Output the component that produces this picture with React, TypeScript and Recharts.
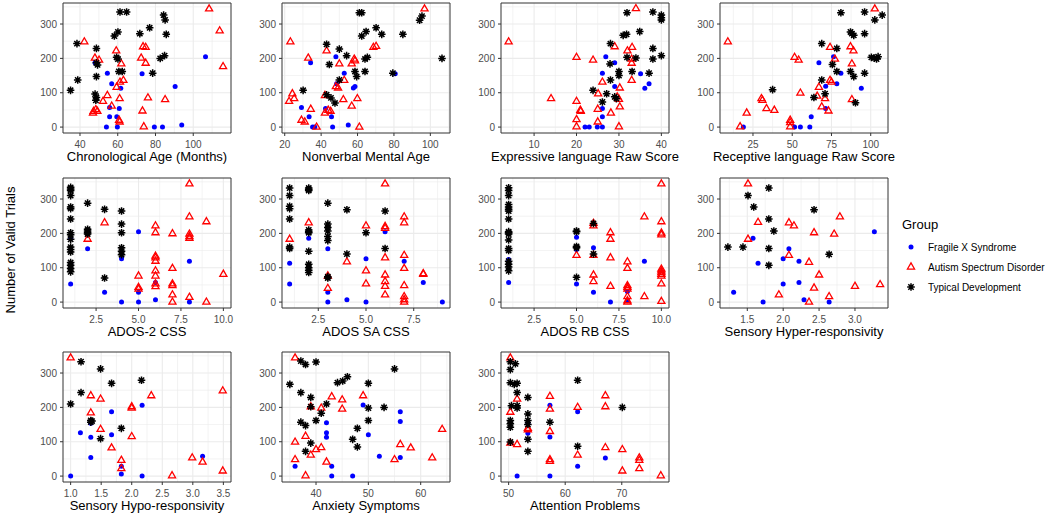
import { ScatterChart, Scatter, XAxis, YAxis, CartesianGrid, ReferenceArea } from 'recharts'

type Pt = [number, number]

// Chronological Age (Months)
const ageFXS: Pt[] = [[48,187],[54.5,157],[56.8,126],[61.6,113],[55.7,57],[60.8,54],[55.7,30],[59.5,30],[54,0],[59.8,0],[72.9,155],[79.4,0],[83.7,0],[93.9,6],[90.4,118],[106.5,205]]
const ageASD: Pt[] = [[42.3,248],[47.9,201],[50.1,195],[59.2,222],[61.9,184],[61.2,131],[63,136],[59.4,116],[54.5,92],[52.2,75],[61,83],[47.2,46],[48.4,51],[49.2,46],[46.9,41],[56.8,61],[60.7,20],[61,15],[72.4,201],[73.4,234],[74.8,232],[74.8,186],[76,85],[85.1,80],[73.1,47],[73.8,1],[108.4,344],[114,280],[115.8,176]]
const ageTD: Pt[] = [[35,107],[38.8,137],[38.4,243],[48.7,229],[48.7,187],[49.3,181],[48.7,147],[48,96],[48.7,86],[48.4,78],[58.2,265],[60.1,277],[61.2,335],[64.7,335],[59.4,203],[60.1,198],[60.6,162],[62.4,162],[71.7,272],[76.9,289],[78.5,157],[82.5,200],[84.8,208],[84.3,326],[85.1,312],[85.7,270]]

// Nonverbal Mental Age
const nvFXS: Pt[] = [[34.2,187],[48.1,205],[52.7,157],[57.7,114],[58.6,118],[48.5,126],[29.2,57],[42.4,54],[33.4,30],[45.7,30],[35.3,0],[36.5,0],[46.3,0],[54.9,6],[80.7,155]]
const nvASD: Pt[] = [[23.1,248],[43,222],[32.9,201],[50,184],[56.8,184],[58.2,198],[58.6,193],[68.7,232],[70.2,235],[96.8,344],[24.2,97],[25.2,83],[22.4,75],[34.3,52],[42.1,92],[48.1,118],[49.3,114],[52.7,136],[52.2,80],[59.9,83],[56.8,61],[42.1,41],[43.9,49],[45.2,46],[29.2,20],[31,15],[37.5,0],[61,0]]
const nvTD: Pt[] = [[30.1,107],[43,241],[50,227],[44.5,182],[54,208],[61,333],[62.3,333],[62.3,265],[64.7,278],[70.2,289],[73.3,270],[84.9,270],[64.1,198],[65.4,203],[58.6,162],[59.5,147],[64.1,162],[79.4,157],[50,137],[43,94],[45.4,85],[47.6,70],[94.1,311],[95.4,323],[106.4,200]]

// Expressive language Raw Score
const exFXS: Pt[] = [[26.9,205],[29,187],[26.1,157],[35.1,155],[37.1,126],[36.1,113],[29,118],[26.1,54],[26.1,30],[22,0],[23,0],[24.9,0],[26.1,0]]
const exASD: Pt[] = [[4,248],[34,345],[29,234],[33.1,232],[32,222],[33,198],[33,186],[20,203],[23.9,195],[33,136],[26.1,131],[30.2,114],[25.1,97],[14,83],[20,75],[20.9,49],[21,46],[25,52],[28.1,41],[30,81],[30.2,59],[20,22],[20,1],[25,15],[30,1],[29.6,88]]
const exTD: Pt[] = [[31.9,333],[38,335],[40,326],[40,318],[40,312],[31,267],[31.8,270],[34.9,278],[28,243],[38,229],[31.9,203],[34,201],[38,198],[40,208],[27.9,184],[30,162],[30,150],[33.1,162],[37.1,157],[28,137],[23.9,107],[27.1,97],[29,88],[29.4,83],[26.1,73]]

// Receptive language Raw Score
const reFXS: Pt[] = [[76.3,205],[67,187],[81,157],[78.4,126],[71.3,119],[94,113],[71.3,54],[62.1,30],[51.5,0],[55.2,0],[61.2,0],[18.9,0]]
const reASD: Pt[] = [[102.6,344],[74.1,232],[87.1,234],[89,222],[51.5,203],[54.1,195],[77.2,198],[88,184],[74.1,136],[75,131],[67,116],[55.2,99],[65.9,90],[70.9,83],[88,80],[68.8,59],[73.1,47],[48.7,20],[48.7,13],[48.7,1],[9,248],[16.8,1],[21,41],[30.4,83],[31,78],[33.6,54],[38.6,49]]
const reTD: Pt[] = [[81,333],[96.1,335],[102.6,312],[107.3,326],[87.1,277],[88,272],[89.2,267],[96.1,272],[68.8,243],[78.4,229],[75.6,182],[78.4,162],[87.1,162],[89.2,147],[96.1,157],[100.4,203],[102.2,201],[103.7,198],[104.7,205],[68.8,137],[70.9,97],[63.8,86],[90.3,71],[37.5,109]]

// ADOS-2 CSS
const a2FXS: Pt[] = [[1,186],[1,112],[1,53],[2,155],[3,29],[4,126],[4,0],[5,205],[5,29],[5,0],[6,57],[6,7],[8,119],[8,0]]
const a2ASD: Pt[] = [[2,183],[3,231],[5,76],[5,43],[5,38],[6,222],[6,202],[6,134],[6,129],[6,119],[6,91],[6,76],[6,53],[6,45],[7,199],[7,98],[7,53],[7,48],[7,21],[7,0],[8,344],[8,248],[8,198],[8,191],[8,186],[8,14],[9,234],[9,0],[10,81]]
const a2TD: Pt[] = [[1,334],[1,329],[1,325],[1,310],[1,277],[1,272],[1,242],[1,202],[1,196],[1,183],[1,160],[1,153],[1,146],[1,115],[1,107],[1,98],[1,88],[2,288],[2,212],[2,207],[2,202],[2,198],[3,270],[3,70],[4,265],[4,227],[4,202],[4,158],[4,148],[4,138]]

// ADOS SA CSS
const saFXS: Pt[] = [[1,113],[1,53],[2,186],[3,155],[3,29],[3,0],[4,7],[5,126],[5,0],[6,205],[7,119],[8,57],[9,0]]
const saASD: Pt[] = [[1,183],[2,231],[3,76],[3,40],[4,117],[5,222],[5,91],[5,53],[6,344],[6,220],[6,215],[6,129],[6,79],[6,60],[6,46],[6,21],[7,248],[7,231],[7,136],[7,98],[7,48],[7,16],[7,7],[7,0],[8,83],[8,81]]
const saTD: Pt[] = [[1,332],[1,310],[1,279],[1,272],[1,242],[1,160],[1,156],[2,332],[2,328],[2,325],[2,210],[2,205],[2,202],[2,148],[2,110],[2,100],[2,93],[2,86],[3,288],[3,227],[3,217],[3,207],[3,191],[3,179],[3,74],[3,70],[4,269],[4,140],[5,202],[6,265],[6,156]]

// ADOS RB CSS
const rbFXS: Pt[] = [[1,124],[1,112],[1,57],[5,189],[5,153],[5,53],[6,158],[6,29],[7,0],[8,31],[8,4],[9,119]]
const rbASD: Pt[] = [[5,136],[6,229],[6,222],[6,136],[6,79],[6,60],[7,202],[7,183],[7,129],[7,46],[8,117],[8,98],[8,48],[8,43],[8,38],[8,16],[8,4],[8,0],[9,248],[9,16],[10,344],[10,234],[10,201],[10,196],[10,96],[10,91],[10,86],[10,81],[10,76],[10,53],[10,2]]
const rbTD: Pt[] = [[1,333],[1,325],[1,310],[1,284],[1,277],[1,270],[1,265],[1,242],[1,205],[1,202],[1,198],[1,181],[1,156],[1,150],[1,119],[1,110],[1,102],[1,91],[5,207],[5,205],[5,162],[5,158],[5,72],[6,229],[6,140]]

// Sensory Hyper-responsivity
const hyFXS: Pt[] = [[1.31,29],[1.58,186],[1.65,113],[1.72,0],[2.08,155],[2,126],[2.22,119],[2,53],[2.22,57],[2.29,7],[2.64,0],[3.27,205]]
const hyASD: Pt[] = [[1.51,344],[1.65,232],[1.51,183],[2.08,231],[2.15,222],[2.43,202],[2.71,198],[2.79,248],[2.08,136],[2.36,116],[2.5,79],[2.43,41],[3,46],[3.35,51],[1.94,21],[2.64,16],[2.36,0]]
const hyTD: Pt[] = [[1.23,160],[1.44,160],[1.51,310],[1.59,277],[1.8,332],[1.8,242],[1.87,207],[1.8,156],[1.8,107],[2.43,269],[2.64,139]]

// Sensory Hypo-responsivity
const hoFXS: Pt[] = [[1.16,126],[1.33,154],[1.33,113],[1.33,54],[1.67,187],[1.67,120],[1.83,29],[1.83,6],[2.17,206],[2.17,0],[1,0],[3.16,58]]
const hoASD: Pt[] = [[1,344],[1.33,234],[1.49,224],[1.33,184],[1.49,136],[1.67,82],[2,202],[2,198],[2.32,234],[2,115],[1.83,46],[1.83,22],[2.66,1],[2.99,53],[3.16,41],[3.49,248],[3.49,15]]
const hoTD: Pt[] = [[1.17,333],[1.49,312],[1.67,270],[2.16,279],[1.17,243],[1,210],[1.33,162],[1.33,157],[1.35,160],[1.83,139],[1.49,109]]

// Anxiety Symptoms
const anFXS: Pt[] = [[36,29],[42,155],[42,126],[42,113],[43,29],[43,0],[47,0],[49,207],[50,120],[52.1,58],[56.1,187],[56.1,159],[56.1,54]]
const anASD: Pt[] = [[36,344],[39,202],[41,198],[43,231],[45,222],[45,195],[49,234],[38,116],[36,99],[36,48],[39,61],[40,77],[41,83],[42,41],[38,1],[56.1,92],[58.1,82],[55,48],[62.2,53],[64.1,136]]
const anTD: Pt[] = [[35,267],[37.1,335],[38,325],[40,332],[37.1,243],[39,229],[39,202],[37.1,157],[38,147],[39,96],[38,72],[40,162],[41,183],[42,210],[44.1,272],[45.1,277],[46,289],[50,270],[50,198],[50,162],[53,200],[47.9,139],[47,107],[47.9,85],[55,312]]

// Attention Problems
const atFXS: Pt[] = [[51.5,0],[53.4,153],[53.4,125],[57.3,206],[57.3,114],[57.3,0],[62.2,187],[62.2,29],[67.1,53]]
const atASD: Pt[] = [[50.3,344],[51.5,224],[50.3,186],[50.3,96],[51.5,92],[53.4,139],[53.4,135],[57.3,232],[57.3,195],[57.3,130],[57.3,48],[57.3,43],[62.2,200],[62.2,61],[67.1,234],[67.1,202],[67.1,83],[70.1,77],[70.1,15],[73.1,53],[73.1,46],[73.1,22],[76.9,1]]
const atTD: Pt[] = [[50.3,333],[51.2,327],[50.3,310],[50.3,272],[51,267],[51.5,270],[51.5,243],[50.5,205],[51.5,205],[51.5,198],[50.3,162],[50.3,152],[50.3,142],[50.3,99],[53.4,229],[53.4,181],[53.4,162],[53.4,150],[53.4,107],[53.4,72],[57.3,157],[62.2,279],[62.2,87],[70.1,200]]

const groupNames = ['Fragile X Syndrome', 'Autism Spectrum Disorder', 'Typical Development']
const yTitle = 'Number of Valid Trials'
const yTicks = [0, 100, 200, 300]
const yDomain: [number, number] = [-17.2, 361.2]

const FONT = '"Liberation Sans", Arial, Helvetica, sans-serif'
const BLUE = '#0000FF'
const RED = '#FF0000'
const BLACK = '#000000'

interface PanelDef {
  title: string
  domain: [number, number]
  ticks: number[]
  dec: number
  fxs: Pt[]
  asd: Pt[]
  td: Pt[]
}

const panels: PanelDef[] = [
  { title: 'Chronological Age (Months)', domain: [31, 120], ticks: [40, 60, 80, 100], dec: 0, fxs: ageFXS, asd: ageASD, td: ageTD },
  { title: 'Nonverbal Mental Age', domain: [18.5, 110.8], ticks: [20, 40, 60, 80, 100], dec: 0, fxs: nvFXS, asd: nvASD, td: nvTD },
  { title: 'Expressive language Raw Score', domain: [2.2, 41.8], ticks: [10, 20, 30, 40], dec: 0, fxs: exFXS, asd: exASD, td: exTD },
  { title: 'Receptive language Raw Score', domain: [4, 111], ticks: [25, 50, 75, 100], dec: 0, fxs: reFXS, asd: reASD, td: reTD },
  { title: 'ADOS-2 CSS', domain: [0.55, 10.45], ticks: [2.5, 5, 7.5, 10], dec: 1, fxs: a2FXS, asd: a2ASD, td: a2TD },
  { title: 'ADOS SA CSS', domain: [0.6, 9.4], ticks: [2.5, 5, 7.5], dec: 1, fxs: saFXS, asd: saASD, td: saTD },
  { title: 'ADOS RB CSS', domain: [0.55, 10.45], ticks: [2.5, 5, 7.5, 10], dec: 1, fxs: rbFXS, asd: rbASD, td: rbTD },
  { title: 'Sensory Hyper-responsivity', domain: [1.12, 3.46], ticks: [1.5, 2, 2.5, 3], dec: 1, fxs: hyFXS, asd: hyASD, td: hyTD },
  { title: 'Sensory Hypo-responsivity', domain: [0.875, 3.625], ticks: [1, 1.5, 2, 2.5, 3, 3.5], dec: 1, fxs: hoFXS, asd: hoASD, td: hoTD },
  { title: 'Anxiety Symptoms', domain: [33.5, 65.6], ticks: [40, 50, 60], dec: 0, fxs: anFXS, asd: anASD, td: anTD },
  { title: 'Attention Problems', domain: [48.65, 78.35], ticks: [50, 60, 70], dec: 0, fxs: atFXS, asd: atASD, td: atTD },
]

const COL_LEFT = [63, 282, 501, 720]
const ROW_TOP = [3, 177.5, 352]
const PLOT_W = 168
const PLOT_H = 130
const Y_AXIS_W = 30
const X_AXIS_H = 32
const M_TOP = 5
const M_SIDE = 16

// ggplot-style minor breaks halfway between majors
function minorBreaks(ticks: number[], domain: [number, number]) {
  const step = ticks[1] - ticks[0]
  const out: number[] = []
  for (let v = ticks[0] - step / 2; v <= domain[1]; v += step) {
    if (v >= domain[0]) out.push(v)
  }
  return out
}

function FxsDot(p: any) {
  if (p.cx == null) return <g />
  return <circle cx={p.cx} cy={p.cy} r={2.5} fill={BLUE} />
}

function AsdTri(p: any) {
  if (p.cx == null) return <g />
  const r = 4.1
  const { cx, cy } = p
  const pts = `${cx},${cy - r} ${cx + r * 0.866},${cy + r * 0.5} ${cx - r * 0.866},${cy + r * 0.5}`
  return <polygon points={pts} fill="none" stroke={RED} strokeWidth={1.3} />
}

function TdStar(p: any) {
  if (p.cx == null) return <g />
  const r = 3.8
  const d = r * 0.707
  const { cx, cy } = p
  const path = `M${cx - r},${cy}H${cx + r}M${cx},${cy - r}V${cy + r}M${cx - d},${cy - d}L${cx + d},${cy + d}M${cx - d},${cy + d}L${cx + d},${cy - d}`
  return <path d={path} stroke={BLACK} strokeWidth={1.5} fill="none" />
}

const toPts = (a: Pt[]) => a.map(([x, y]) => ({ x, y }))

function Panel({ def, index }: { def: PanelDef; index: number }) {
  const left = COL_LEFT[index % 4] - Y_AXIS_W - M_SIDE
  const top = ROW_TOP[Math.floor(index / 4)] - M_TOP
  const tickStyle = { fontSize: 10, fill: '#4D4D4D', fontFamily: FONT }
  return (
    <div style={{ position: 'absolute', left, top }}>
      <ScatterChart
        width={M_SIDE + Y_AXIS_W + PLOT_W + M_SIDE}
        height={M_TOP + PLOT_H + X_AXIS_H}
        margin={{ top: M_TOP, right: M_SIDE, bottom: 0, left: M_SIDE }}
      >
        <CartesianGrid
          horizontalValues={minorBreaks(yTicks, yDomain)}
          verticalValues={minorBreaks(def.ticks, def.domain)}
          stroke="#EBEBEB"
          strokeWidth={0.6}
        />
        <CartesianGrid horizontalValues={yTicks} verticalValues={def.ticks} stroke="#EBEBEB" strokeWidth={1.1} />
        <XAxis
          type="number"
          dataKey="x"
          domain={def.domain}
          ticks={def.ticks}
          allowDataOverflow
          interval={0}
          height={X_AXIS_H}
          axisLine={false}
          tickSize={3}
          tickMargin={5}
          tickLine={{ stroke: '#333333' }}
          tick={tickStyle}
          tickFormatter={(v: number) => v.toFixed(def.dec)}
          label={{ value: def.title, position: 'insideBottom', offset: 4, fontSize: 13, fill: '#000', fontFamily: FONT }}
        />
        <YAxis
          type="number"
          dataKey="y"
          domain={yDomain}
          ticks={yTicks}
          allowDataOverflow
          interval={0}
          width={Y_AXIS_W}
          axisLine={false}
          tickSize={3}
          tickMargin={3}
          tickLine={{ stroke: '#333333' }}
          tick={tickStyle}
        />
        <Scatter data={toPts(def.fxs)} shape={FxsDot} isAnimationActive={false} />
        <Scatter data={toPts(def.asd)} shape={AsdTri} isAnimationActive={false} />
        <Scatter data={toPts(def.td)} shape={TdStar} isAnimationActive={false} />
        <ReferenceArea
          x1={def.domain[0]}
          x2={def.domain[1]}
          y1={yDomain[0]}
          y2={yDomain[1]}
          fill="none"
          fillOpacity={0}
          stroke="#333333"
          strokeWidth={1}
        />
      </ScatterChart>
    </div>
  )
}

function Legend() {
  const rows = [247, 267, 287]
  const shapes = [
    <FxsDot cx={911} cy={rows[0]} />,
    <AsdTri cx={911} cy={rows[1]} />,
    <TdStar cx={911} cy={rows[2]} />,
  ]
  return (
    <svg width={1050} height={516} style={{ position: 'absolute', left: 0, top: 0, pointerEvents: 'none' }}>
      <text x={902} y={229} fontSize={13} fontFamily={FONT} fill="#000">Group</text>
      {groupNames.map((g, i) => (
        <g key={g}>
          {shapes[i]}
          <text x={928} y={rows[i] + 3.6} fontSize={10} fontFamily={FONT} fill="#000">{g}</text>
        </g>
      ))}
      <text
        transform="translate(15,250) rotate(-90)"
        textAnchor="middle"
        fontSize={13}
        fontFamily={FONT}
        fill="#000"
      >
        {yTitle}
      </text>
    </svg>
  )
}

export default function App() {
  return (
    <div style={{ position: 'absolute', left: 0, top: 0, width: 1050, height: 516, background: '#fff', fontFamily: FONT }}>
      {panels.map((p, i) => (
        <Panel key={p.title} def={p} index={i} />
      ))}
      <Legend />
    </div>
  )
}
